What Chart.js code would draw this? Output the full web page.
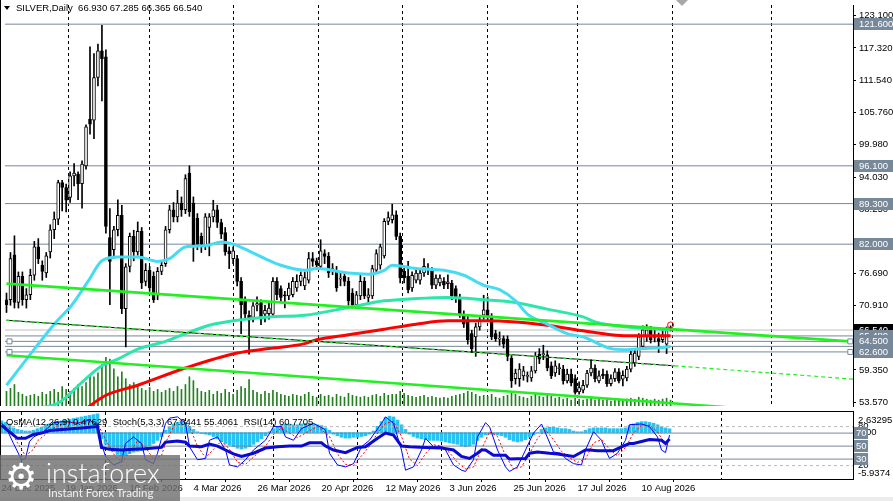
<!DOCTYPE html>
<html>
<head>
<meta charset="utf-8">
<title>SILVER, Daily</title>
<script src="https://cdn.jsdelivr.net/npm/chart.js@4.4.1/dist/chart.umd.min.js"></script>
<style>
  html, body { margin: 0; padding: 0; background: #fff; overflow: hidden; }
  #wrap { position: relative; width: 893px; height: 501px; font-family: "Liberation Sans", Arial, sans-serif; color: #000; }
  canvas { position: absolute; left: 0; }
  #main { top: 0; }
  #sub { top: 411px; }
  .txt { position: absolute; font-size: 9.5px; line-height: 13px; white-space: pre; }
  #title { left: 16px; top: 1px; }
  #tri { position: absolute; left: 4px; top: 6px; width: 0; height: 0;
         border-left: 3.5px solid transparent; border-right: 3.5px solid transparent; border-top: 4px solid #000; }
  #shift { position: absolute; left: 676px; top: 0; width: 0; height: 0;
           border-left: 6px solid transparent; border-right: 6px solid transparent; border-top: 6px solid #a8a8a8; }
  #ind { left: 6px; top: 415px; }
  #strip { position: absolute; left: 0; top: 497px; width: 893px; height: 4px; background: #ececec; }
  #logo { position: absolute; left: 0; top: 455px; width: 180px; height: 46px; background: rgba(112,112,112,0.82); color: #fff; overflow: hidden; }
  #logo .gear { position: absolute; left: 5px; top: 2px; font-size: 36px; line-height: 40px; font-family: "DejaVu Sans", sans-serif; }
  #logo .brand { position: absolute; left: 46px; top: 3px; font-size: 27px; line-height: 30px; font-family: Lato, "Open Sans", sans-serif; font-weight: 300; }
  #logo .tag { position: absolute; left: 48px; top: 31px; font-size: 11.5px; line-height: 13px; font-family: Lato, "Open Sans", sans-serif; color: #f0f0f0; }
</style>
</head>
<body>
<div id="wrap">
  <canvas id="main" width="893" height="411"></canvas>
  <canvas id="sub" width="893" height="90"></canvas>
  <div id="tri"></div>
  <div class="txt" id="title">SILVER,Daily  66.930 67.285 66.365 66.540</div>
  <div id="shift"></div>
  <div class="txt" id="ind">OsMA(12,26,9) 0.47629  Stoch(5,3,3) 67.0441 55.4061  RSI(14) 60.7705</div>
  <div id="strip"></div>
  <div id="logo"><span class="gear">⚙</span><span class="brand">instaforex</span><span class="tag">Instant Forex Trading</span></div>
</div>
<script>
// daily bars, 24 Dec 2025 .. 19 Aug 2026 (index = bar number)
const opens = [72.0,72.0,80.1,71.5,76.2,72.0,72.9,76.4,81.5,78.2, 76.8,80.6,84.6,86.5,93.1,92.2,90.4,94.3,94.6,92.9,
  96.1,104.5,104.3,112.0,116.8,115.7,83.2,81.0,84.6,87.2, 70.4,78.0,83.4,80.6,84.3,75.3,77.3,76.2,72.9,77.1,
  78.5,84.6,88.2,86.9,89.4,88.2,94.8,89.4,86.7,83.4, 81.7,85.0,86.9,88.2,85.9,84.1,80.8,79.4,79.4,75.3,
  71.8,69.2,68.8,71.0,71.5,69.4,69.5,69.4,75.3,74.0, 72.9,72.7,72.9,74.1,75.3,74.5,75.5,79.4,79.0,78.0,
  80.3,79.8,77.4,77.3,75.7,76.2,75.3,73.2,71.1,72.7, 75.3,72.4,72.7,77.3,78.2,79.9,86.1,86.4,87.3,83.4,
  77.1,76.2,74.1,75.5,75.5,76.8,77.5,77.1,74.6,75.0, 75.3,74.9,75.0,74.0,72.4,69.4,68.3,65.9,65.3,67.1,
  69.2,70.2,69.0,65.9,64.9,65.0,64.9,61.5,57.8,57.8, 58.3,58.2,57.9,59.2,62.2,62.1,62.1,60.1,58.8,59.6,
  59.5,57.4,58.6,57.8,55.4,55.7,56.6,58.8,59.7,57.4, 58.6,58.6,56.9,57.8,59.0,57.7,57.9,59.5,60.6,61.8,
  63.6,65.3,66.6,65.2,65.0,64.8,64.0,66.93];
const highs = [73.2,80.5,83.5,77.0,77.0,74.0,77.5,82.5,83.0,79.0, 80.5,85.5,87.8,93.5,93.5,92.8,95.0,96.5,95.0,97.0,
  103.5,117.5,116.3,118.0,121.4,117.0,88.4,85.2,90.0,89.0, 78.5,84.0,84.5,86.0,85.0,78.5,78.0,77.0,77.8,79.0,
  85.2,89.0,89.5,91.7,90.5,94.5,96.1,90.5,87.5,84.0, 87.5,87.5,89.9,89.0,86.5,85.0,81.5,81.5,80.0,76.0,
  72.5,70.0,71.5,72.5,72.0,71.0,71.5,76.0,76.0,74.5, 73.5,75.0,76.0,76.5,77.0,77.0,80.5,80.5,79.5,82.8,
  81.0,80.5,78.5,78.0,77.0,77.0,76.0,74.0,73.5,76.5, 76.0,74.0,78.2,81.0,82.0,86.6,87.8,89.2,88.0,84.0,
  78.0,78.9,77.0,77.5,77.4,79.4,78.5,77.8,76.5,76.5, 76.0,76.5,75.5,74.5,73.0,70.0,69.0,66.5,67.8,68.8,
  72.8,72.5,69.5,66.5,66.2,65.5,65.5,62.0,59.5,60.5, 60.0,59.0,60.0,62.5,63.2,63.8,62.8,60.8,61.0,60.5,
  60.2,59.5,59.5,58.5,57.2,57.5,59.3,61.2,60.3,59.2, 59.5,59.2,58.5,59.6,59.6,59.2,60.0,62.8,63.0,65.9,
  67.3,67.5,67.2,66.5,66.0,66.6,67.1,67.285];
const lows = [69.7,71.0,70.5,70.5,71.0,70.5,72.0,75.5,78.5,75.5, 76.0,79.5,83.0,85.5,88.0,87.8,89.5,92.5,90.0,88.5,
  95.5,101.8,101.0,110.5,107.8,84.0,71.1,79.5,83.5,69.5, 63.5,77.0,79.0,80.0,74.0,74.5,73.5,71.5,72.0,76.5,
  78.0,84.0,86.0,86.0,87.0,87.5,87.0,78.9,81.0,80.5, 81.0,79.9,86.0,85.0,83.0,80.0,77.6,78.5,74.5,65.9,
  68.5,62.2,68.0,70.0,67.5,68.0,68.5,69.0,72.0,71.5, 70.5,72.0,72.5,73.5,74.5,73.8,75.0,78.0,77.5,77.5,
  78.5,76.0,76.5,73.5,74.5,74.5,71.0,70.5,70.5,72.0, 72.2,71.5,72.2,77.0,77.5,79.5,85.5,85.8,82.8,75.0,
  75.0,73.2,73.5,75.0,74.8,76.2,76.5,74.0,74.0,74.5, 74.0,74.0,72.0,71.5,68.8,67.0,64.0,62.5,61.8,66.5,
  68.5,68.2,64.8,64.5,63.8,63.3,61.0,56.2,56.8,56.4, 57.5,57.2,57.3,58.8,60.5,61.2,59.2,57.8,58.2,58.5,
  56.8,57.0,56.5,55.0,55.0,55.2,56.2,58.3,57.2,57.0, 57.8,56.4,56.5,57.3,57.0,56.5,57.4,59.0,60.0,61.2,
  63.2,64.5,64.2,64.4,62.5,64.3,62.3,66.365];
const closes = [71.1,79.4,71.5,76.2,72.0,72.9,76.4,81.5,79.4,77.1, 79.9,84.6,86.5,93.1,92.2,89.9,94.3,94.8,92.9,96.4,
  103.1,103.6,112.0,116.8,115.4,85.2,78.9,84.6,87.2,70.4, 77.9,83.4,80.6,84.3,75.0,77.3,74.1,72.0,77.1,78.2,
  84.6,88.2,86.9,89.4,88.2,93.8,87.8,81.7,82.0,82.0, 86.9,86.9,88.2,85.9,83.8,80.6,80.3,80.8,75.3,71.1,
  69.4,68.3,70.9,71.3,68.5,70.1,70.5,75.3,72.9,72.4, 72.7,74.1,75.3,75.3,76.4,76.0,79.4,78.9,78.2,80.8,
  79.8,76.8,77.6,74.1,75.9,75.3,71.8,71.0,72.9,75.3, 72.7,72.9,77.6,80.3,81.5,86.1,86.8,87.3,83.4,75.9,
  75.9,73.8,76.4,76.8,76.8,78.0,77.7,74.6,75.9,75.9, 74.6,75.2,72.7,72.4,69.4,67.6,64.8,63.2,67.1,68.3,
  70.2,68.9,65.3,65.0,65.1,64.0,61.8,57.4,58.8,59.5, 59.2,58.4,59.2,61.8,61.3,62.3,59.7,58.3,60.1,59.8,
  57.4,58.6,57.0,55.3,56.2,56.6,58.8,59.7,57.8,58.3, 58.3,56.9,57.8,59.0,57.4,58.4,59.5,62.2,62.4,65.3,
  66.6,66.6,64.8,65.4,64.5,65.7,66.9,66.54];
const tickVolume = [15,18,22,14,12,10,11,12,10,14, 12,15,17,14,20,17,15,18,22,20, 24,32,30,34,43,50,48,38,30,35,
  28,22,24,20,18,16,19,15,17,14, 16,18,15,20,17,22,30,26,18,15, 14,16,12,15,13,17,14,12,16,20,
  18,27,16,14,12,15,13,16,14,12, 11,10,12,11,10,12,14,10,9,12, 10,11,9,12,10,9,13,11,10,9,
  10,9,11,12,10,13,11,12,12,15, 13,11,10,9,10,11,9,10,9,8, 9,8,10,11,12,13,15,14,12,10,
  11,10,12,9,8,10,11,13,12,10, 9,8,10,12,10,9,11,10,8,9, 7,8,6,8,7,6,7,8,6,7,
  6,7,5,6,7,6,7,8,7,9, 8,7,6,7,6,7,8,6];

// moving averages: [bar, price]
const cyanMA = [[0,56.6],[7,63.1],[12,67.6],[16.5,71.1],[20.5,75.3],[24,79.0],[28,79.7],[33,79.7],[38,78.9],[41,79.4],
  [45,81.5],[50,81.7],[54,82.4],[57,82.0],[60,81.1],[65,79.4],[69,78.2],[75,77.3],[78,77.6],[86,76.8],[91,76.6],
  [95,77.3],[97,78.2],[103,77.6],[110,77.3],[115,76.4],[120,74.6],[124,73.8],[128,71.8],[131,69.4],[136,67.6],
  [141,65.9],[145,65.3],[152,63.2],[156,63.0],[160,63.2],[165,63.4],[167,63.6]];
const tealMA = [[9,52.6],[13,53.4],[20,57.8],[24,60.1],[28,61.3],[33,63.1],[40,64.5],[45,65.9],[51,67.4],[58,68.3],
  [66,68.9],[75,69.2],[86,70.6],[95,71.8],[103,72.2],[111,72.4],[120,72.0],[128,71.5],[136,70.3],[145,68.9],
  [148,68.0],[156,67.1],[167,66.6]];
const redMA = [[20,52.4],[25,54.8],[33,56.6],[45,59.7],[58,62.4],[66,63.2],[75,64.1],[78,64.8],[86,65.7],[95,66.7],
  [103,67.6],[111,68.2],[120,68.2],[128,68.0],[136,67.4],[145,66.4],[152,65.7],[156,65.5],[167,65.5]];

// channel / trend lines: [bar, price]
const upperTrend = [[0,74.9],[213,64.45]];
const lowerTrend = [[0,62.0],[213,51.0]];
const midTrend = [[0,68.3],[168,60.1]];
const midExt = [[168,60.1],[213,57.7]];

const bidPrice = 66.54;
const levelPrices = [121.6, 96.1, 89.3, 82.0, 65.48, 64.5, 63.6, 62.6];
const levelTags = ['121.600','96.100','89.300','82.000','65.480','64.500',null,'62.600'];
const mainTicks = [123.1,117.32,111.54,105.76,99.98,94.03,88.25,82.47,76.69,70.91,65.13,59.35,53.57];

const monthBars = [5,26,46,68,89,110,132,155,180];
const labelBars = [0,16,32,48,64,80,96,112,128,144,160];
const dateLabels = ['24 Dec 2025','19 Jan 2026','10 Feb 2026','4 Mar 2026','26 Mar 2026','20 Apr 2026',
  '12 May 2026','3 Jun 2026','25 Jun 2026','17 Jul 2026','10 Aug 2026'];

// sub window
const osma = [1.5,1.3,1.1,0.6,0.4,0.3,0.2,0.2,0.3,0.5, 0.7,1.0,1.1,1.3,1.4,1.5,1.6,1.7,1.8,1.9,
  2.0,2.1,2.2,2.3,2.4,-0.8,-1.5,-2.0,-2.4,-2.8, -3.0,-2.9,-2.7,-2.5,-2.4,-2.3,-2.0,-1.7,-1.4,-1.0,
  -0.5,0.3,0.8,1.1,1.3,1.4,1.3,0.8,0.4,0.1, -0.1,-0.2,-0.3,-0.5,-0.8,-1.1,-1.4,-1.6,-1.8,-2.0,
  -2.1,-2.0,-1.8,-1.5,-1.2,-0.8,-0.4,0.1,0.5,0.8, 1.0,1.1,1.1,1.0,1.0,1.1,1.2,1.2,1.1,1.0,
  0.9,0.6,0.3,-0.2,-0.4,-0.6,-0.7,-0.7,-0.6,-0.6, -0.5,-0.4,-0.2,0.2,0.8,1.4,1.9,2.1,2.0,1.6,
  1.0,0.4,-0.2,-0.5,-0.7,-0.8,-0.9,-1.0,-1.0,-1.0, -1.1,-1.2,-1.3,-1.4,-1.5,-1.7,-1.8,-1.7,-1.5,-1.0,
  -0.6,-0.3,-0.2,-0.2,-0.3,-0.4,-0.6,-0.9,-1.1,-1.2, -1.1,-0.9,-0.6,-0.3,0.0,0.4,0.6,0.7,0.7,0.6,
  0.5,0.5,0.4,0.2,0.1,0.1,0.3,0.5,0.6,0.6, 0.6,0.6,0.5,0.5,0.5,0.5,0.6,0.9,1.1,1.3,
  1.4,1.4,1.3,1.2,1.0,0.8,0.6,0.48];
const stochMainPts = [[0,85],[1,80],[3,54],[5,29],[6,31],[7,57],[8,64],[10,70],[11,75],[13,86],[16,88],[19,85],[22,90],
  [24,82],[25,54],[26,34],[28,21],[30,26],[31,54],[33,64],[35,54],[36,29],[38,23],[39,39],[41,85],[42,93],[44,95],
  [46,85],[47,49],[49,29],[51,31],[52,59],[54,64],[56,44],[57,21],[59,18],[61,29],[63,44],[66,59],[68,80],[70,80],
  [71,64],[73,59],[75,77],[78,85],[81,75],[82,39],[84,21],[86,18],[88,23],[90,49],[92,59],[95,85],[96,95],[98,85],
  [100,44],[101,13],[103,18],[105,44],[106,62],[108,49],[110,49],[111,44],[113,21],[115,13],[116,11],[118,29],
  [119,64],[121,86],[122,80],[124,44],[126,18],[127,11],[129,18],[131,44],[133,70],[135,84],[136,70],[138,41],
  [140,39],[141,31],[143,23],[145,21],[146,44],[148,72],[150,59],[151,44],[152,31],[154,39],[156,59],[157,83],
  [160,84],[162,80],[164,64],[165,44],[166,40],[167,67]];
const stochSignalPts = [[0,80],[2,78],[4,55],[6,35],[8,45],[9,58],[11,68],[13,78],[16,86],[19,86],[22,87],[24,85],
  [26,60],[28,38],[30,25],[32,40],[34,58],[36,48],[38,30],[40,35],[41,55],[43,80],[45,92],[47,80],[49,50],[51,32],
  [53,45],[55,58],[57,45],[59,25],[61,22],[63,33],[66,50],[68,68],[70,78],[72,70],[74,63],[76,70],[79,80],[82,65],
  [84,38],[86,22],[88,20],[90,35],[92,50],[94,70],[96,85],[98,88],[100,65],[102,30],[104,20],[106,38],[108,52],
  [110,50],[112,40],[114,25],[116,15],[118,18],[120,45],[122,72],[124,65],[126,35],[128,15],[130,18],[132,38],
  [134,62],[136,75],[138,60],[140,42],[142,32],[144,25],[146,30],[148,55],[150,60],[152,45],[154,35],[156,48],
  [158,70],[160,82],[162,82],[164,72],[166,52],[167,55.4]];
const rsiPts = [[0,82],[2,72],[4,62],[6,62],[8,68],[10,70],[12,74],[16,76],[20,78],[24,80],[25,48],[27,45],[30,44],
  [33,45],[36,46],[40,48],[41,56],[44,58],[46,56],[47,50],[50,49],[52,53],[54,50],[56,44],[58,38],[60,34],[63,39],
  [66,47],[69,49],[72,50],[75,50],[77,55],[80,55],[81,50],[83,44],[86,40],[89,48],[91,49],[94,62],[96,70],[98,67],
  [100,50],[102,49],[106,48],[110,47],[113,44],[115,34],[117,31],[119,39],[120,44],[121,44],[123,36],[126,36],
  [127,30],[131,31],[132,39],[134,41],[137,39],[139,38],[143,34],[146,44],[147,44],[149,43],[153,43],[155,49],
  [157,54],[158,54],[160,57],[162,60],[165,59],[166,54],[167,60.77]];
const subLevels = [80, 70, 50, 30, 20];
const osmaMax = 2.63295, osmaMin = -5.9374;

const xMin = -0.375, xMax = 212.875;
const FONT = '9.5px "Liberation Sans", Arial, sans-serif';
const tickFont = { family: 'Liberation Sans', size: 9.5 };
const GRAY = '#778899';

const pts = (arr) => arr.map(([x, y]) => ({ x, y }));
const flat = (v) => [{ x: xMin, y: v }, { x: xMax, y: v }];
const line = (data, color, width, order, extra) =>
  Object.assign({ type: 'line', data, borderColor: color, borderWidth: width, pointRadius: 0, fill: false, order }, extra || {});
const idx = closes.map((_, i) => i);
const fitRight = (s) => { s.width = 40; s.paddingTop = 0; s.paddingBottom = 0; };
const monthGrid = (s) => { s.ticks = monthBars.map(v => ({ value: v })); };

const mainDecor = {
  id: 'mainDecor',
  afterDraw(chart) {
    const { ctx, chartArea: a, scales: { y } } = chart;
    ctx.save();
    ctx.fillStyle = '#000';
    ctx.fillRect(0, 0, 1, a.bottom);
    ctx.font = FONT;
    ctx.textBaseline = 'middle';
    const box = (price, text, bg) => {
      const py = Math.round(y.getPixelForValue(price));
      ctx.fillStyle = bg;
      ctx.fillRect(a.right + 1, py - 6, 39, 12);
      ctx.fillStyle = '#fff';
      ctx.fillText(text, a.right + 6, py + 0.5);
    };
    box(bidPrice, bidPrice.toFixed(3), '#000');
    levelPrices.forEach((p, i) => { if (levelTags[i]) box(p, levelTags[i], GRAY); });
    ctx.restore();
  }
};

new Chart(document.getElementById('main'), {
  type: 'line',
  data: {
    datasets: [
      line([{ x: 167, y: 67.45 }], '#ff0000', 1, 0, { showLine: false, pointRadius: 3, pointBackgroundColor: 'rgba(0,0,0,0)', pointBorderColor: '#ff0000' }),
      line([{ x: 0.75, y: 64.5 }, { x: 0.75, y: 62.6 }, { x: 212.2, y: 64.5 }, { x: 212.2, y: 62.6 }], GRAY, 1, 0,
        { showLine: false, pointStyle: 'rect', pointRadius: 3.5, pointBackgroundColor: '#fff', pointBorderColor: GRAY }),
      line(pts(midTrend), '#22e622', 1.4, 1, { borderDash: [3, 3] }),
      line(pts(midTrend), '#000', 1, 2),
      line(pts(midExt), '#22ee22', 1.2, 1, { borderDash: [4, 3] }),
      line(pts(upperTrend), '#22f022', 2.6, 3),
      line(pts(lowerTrend), '#22f022', 2.6, 3),
      line(pts(cyanMA), '#45dcf2', 3, 4, { cubicInterpolationMode: 'monotone' }),
      line(pts(tealMA), '#2ee5ab', 3, 5, { cubicInterpolationMode: 'monotone' }),
      line(pts(redMA), '#ff0000', 3, 5, { cubicInterpolationMode: 'monotone' }),
      { type: 'bar', data: idx.map(i => ({ x: i, y: [opens[i], closes[i]] })), order: 6,
        backgroundColor: idx.map(i => closes[i] >= opens[i] ? '#fff' : '#000'),
        borderColor: '#000', borderWidth: 1, borderSkipped: false, barThickness: 3, grouped: false },
      { type: 'bar', data: idx.map(i => ({ x: i, y: [lows[i], highs[i]] })), order: 7,
        backgroundColor: '#000', borderWidth: 0, barThickness: 1, grouped: false },
      { type: 'bar', data: idx.map(i => ({ x: i, y: tickVolume[i] })), yAxisID: 'yv', order: 8,
        backgroundColor: '#23801f', borderWidth: 0, barThickness: 1, grouped: false },
      ...levelPrices.map(p => line(flat(p), GRAY, 1, 9)),
      line(flat(bidPrice), '#c0c0c0', 1, 9)
    ]
  },
  options: {
    responsive: false, animation: false, events: [],
    layout: { padding: 0 },
    plugins: { legend: { display: false }, tooltip: { enabled: false } },
    scales: {
      x: { type: 'linear', min: xMin, max: xMax, offset: false, afterBuildTicks: monthGrid,
           ticks: { display: false }, grid: { color: '#000', drawTicks: false },
           border: { display: false, dash: [3, 3] }, afterFit: (s) => { s.height = 0; } },
      y: { type: 'linear', position: 'right', min: 52.867, max: 125.05,
           afterBuildTicks: (s) => { s.ticks = mainTicks.map(v => ({ value: v })); },
           ticks: { color: '#000', font: tickFont, padding: 3, autoSkip: false, callback: (v) => v.toFixed(3) },
           grid: { drawOnChartArea: false, drawTicks: true, tickLength: 3, color: '#000' },
           border: { display: true, color: '#000' }, afterFit: fitRight },
      yv: { type: 'linear', display: false, min: 0, max: 411 }
    }
  },
  plugins: [mainDecor]
});

const subDecor = {
  id: 'subDecor',
  afterDraw(chart) {
    const { ctx, chartArea: a, scales: { y, yo } } = chart;
    ctx.save();
    ctx.fillStyle = '#000';
    ctx.fillRect(0, 0, a.right + 1, 1);
    ctx.fillRect(0, 0, 1, a.bottom);
    ctx.font = FONT;
    ctx.textBaseline = 'middle';
    const tx = a.right + 5;
    ctx.fillText(osmaMax.toFixed(5), tx, yo.getPixelForValue(osmaMax) + 8);
    ctx.fillText('80', tx, y.getPixelForValue(80));
    ctx.fillText('0.00', tx, yo.getPixelForValue(0));
    ctx.fillText('20', tx, y.getPixelForValue(20));
    ctx.fillText(osmaMin.toFixed(4), tx, yo.getPixelForValue(osmaMin) - 6);
    [70, 50, 30].forEach(v => {
      const py = Math.round(y.getPixelForValue(v));
      ctx.fillStyle = GRAY;
      ctx.fillRect(a.right + 1, py - 6, 14, 12);
      ctx.fillStyle = '#fff';
      ctx.fillText(String(v), a.right + 3, py + 0.5);
    });
    ctx.restore();
  }
};

new Chart(document.getElementById('sub'), {
  type: 'line',
  data: {
    datasets: [
      line(pts(rsiPts), '#0a0ad0', 3, 0),
      line(pts(stochSignalPts), '#ff0000', 1, 1, { borderDash: [2, 2] }),
      line(pts(stochMainPts), '#0000ff', 1, 2),
      ...subLevels.map(v => (v === 80 || v === 20)
        ? line(flat(v), '#b8b8b8', 1, 3, { borderDash: [3, 3] })
        : line(flat(v), GRAY, 1, 3)),
      { type: 'bar', data: idx.map(i => ({ x: i, y: osma[i] })), yAxisID: 'yo', order: 5,
        backgroundColor: '#27c3f3', borderWidth: 0, barThickness: 3, grouped: false }
    ]
  },
  options: {
    responsive: false, animation: false, events: [],
    layout: { padding: { top: 1 } },
    plugins: { legend: { display: false }, tooltip: { enabled: false } },
    scales: {
      x: { type: 'linear', min: xMin, max: xMax, offset: false,
           afterBuildTicks: (s) => { s.ticks = labelBars.map(v => ({ value: v })); },
           ticks: { autoSkip: false, maxRotation: 0, minRotation: 0, align: 'start', padding: 1, color: '#000',
                    font: tickFont, callback: (v, i) => dateLabels[i] },
           grid: { drawOnChartArea: false, drawTicks: true, tickLength: 3, color: '#000' },
           border: { display: true, color: '#000' },
           afterFit: (s) => { s.height = 22; s.paddingLeft = 0; s.paddingRight = 0; } },
      xg: { type: 'linear', position: 'bottom', min: xMin, max: xMax, offset: false, afterBuildTicks: monthGrid,
            ticks: { display: false }, grid: { color: '#000', drawTicks: false },
            border: { display: false, dash: [3, 3] }, afterFit: (s) => { s.height = 0; } },
      y: { type: 'linear', position: 'right', min: -0.62, max: 102.46,
           afterBuildTicks: (s) => { s.ticks = [{ value: 0 }, { value: 100 }]; },
           ticks: { display: false }, grid: { drawOnChartArea: false, drawTicks: false },
           border: { display: true, color: '#000' }, afterFit: fitRight },
      yo: { type: 'linear', display: false, min: osmaMin, max: osmaMax }
    }
  },
  plugins: [subDecor]
});
</script>
</body>
</html>
